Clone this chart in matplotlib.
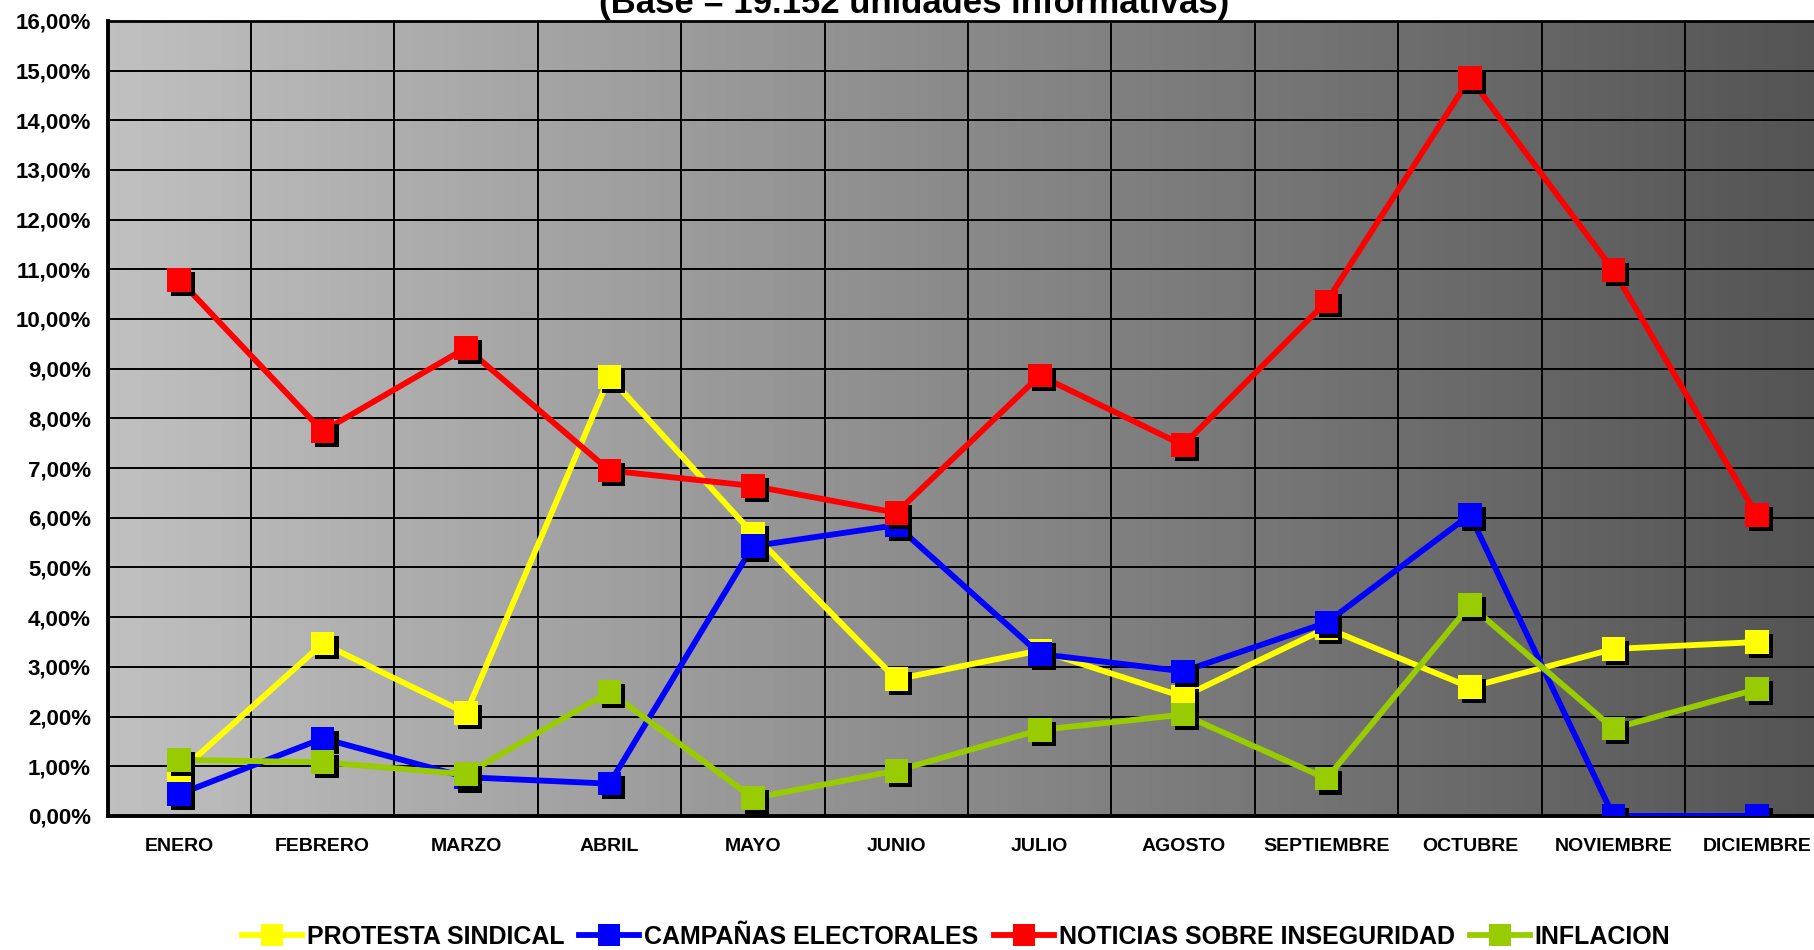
import numpy as np
import matplotlib.pyplot as plt
import matplotlib.patheffects as pe
from matplotlib.colors import LinearSegmentedColormap

plt.rcParams['font.family'] = ['Liberation Sans', 'DejaVu Sans']
plt.rcParams['font.weight'] = 'bold'

meses = ['ENERO', 'FEBRERO', 'MARZO', 'ABRIL', 'MAYO', 'JUNIO', 'JULIO',
         'AGOSTO', 'SEPTIEMBRE', 'OCTUBRE', 'NOVIEMBRE', 'DICIEMBRE']

protesta = [0.88, 3.47, 2.07, 8.83, 5.68, 2.75, 3.33, 2.40, 3.78, 2.59, 3.36, 3.50]
campanas = [0.44, 1.56, 0.78, 0.65, 5.43, 5.85, 3.26, 2.91, 3.89, 6.06, 0.0, 0.0]
inseguridad = [10.79, 7.74, 9.42, 6.95, 6.64, 6.10, 8.86, 7.46, 10.35, 14.85, 10.98, 6.06]
inflacion = [1.13, 1.08, 0.84, 2.50, 0.36, 0.91, 1.73, 2.04, 0.75, 4.24, 1.76, 2.55]

series = [('PROTESTA SINDICAL', protesta, '#ffff00'),
          ('CAMPAÑAS ELECTORALES', campanas, '#0000ff'),
          ('NOTICIAS SOBRE INSEGURIDAD', inseguridad, '#ff0000'),
          ('INFLACION', inflacion, '#99cc00')]

titulo = '(Base = 19.152 unidades informativas)'

fig = plt.figure(figsize=(18.14, 9.5), dpi=100)
ax = fig.add_axes([0.0593, 0.1411, 0.9487, 0.837])

x = np.arange(len(meses))

# fondo degradado gris
cmap = LinearSegmentedColormap.from_list('fondo', ['#c0c0c0', '#535353'])
ax.imshow(np.linspace(0, 1, 256).reshape(1, -1), cmap=cmap, aspect='auto',
          extent=[-0.5, len(meses) - 0.5, 0, 16], zorder=0)

sombra = [pe.SimplePatchShadow(offset=(2.9, -2.9), shadow_rgbFace='black', alpha=1.0), pe.Normal()]

handles = []
for i, (nombre, valores, color) in enumerate(series):
    ax.plot(x, valores, color=color, lw=4.2, zorder=3 + 2 * i, solid_capstyle='butt')
    ax.plot(x, valores, ls='none', marker='s', ms=17, mfc=color, mec=color, mew=0,
            zorder=4 + 2 * i, path_effects=sombra)
    h, = ax.plot([], [], color=color, lw=4.2, marker='s', ms=16, mew=0, label=nombre)
    handles.append(h)

ax.set_xlim(-0.5, len(meses) - 0.5)
ax.set_ylim(0, 16)

ax.set_xticks(x)
ax.set_xticklabels(meses, fontsize=14, fontweight='bold')
ax.set_xticks(np.arange(-0.5, len(meses), 1), minor=True)
ax.set_yticks(np.arange(0, 17, 1))
ax.set_yticklabels([('%.2f%%' % v).replace('.', ',') for v in range(17)],
                   fontsize=16, fontweight='bold')
ax.tick_params(axis='both', which='both', length=0)
ax.tick_params(axis='x', pad=16)
ax.tick_params(axis='y', pad=12)

ax.grid(True, which='major', axis='y', color='black', lw=1.4, zorder=1)
ax.grid(True, which='minor', axis='x', color='black', lw=1.4, zorder=1)
ax.grid(False, which='major', axis='x')
ax.set_axisbelow(False)

for s in ['left', 'bottom']:
    ax.spines[s].set_linewidth(2.8)
ax.spines['top'].set_linewidth(2.0)
ax.spines['right'].set_visible(False)

fig.text(0.504, 0.986, titulo, ha='center', va='baseline', fontsize=25, fontweight='bold')

fig.legend(handles=handles, loc='center', bbox_to_anchor=(0.527, 0.0136), ncol=4,
           frameon=False, prop={'size': 18, 'weight': 'bold'}, handlelength=2.4,
           handletextpad=0.2, columnspacing=0.6)

fig.savefig('out.png', dpi=100)
